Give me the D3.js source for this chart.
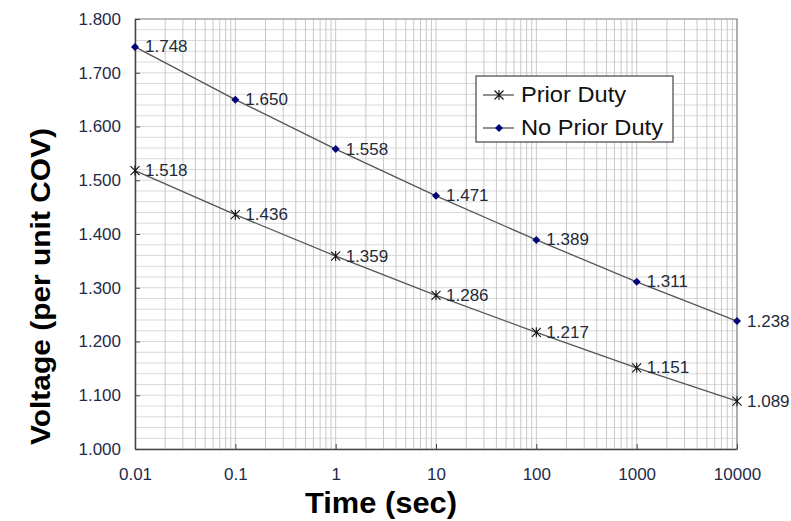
<!DOCTYPE html>
<html><head><meta charset="utf-8">
<script src="https://cdn.jsdelivr.net/npm/d3@7"></script>
<style>body{margin:0;background:#fff;}svg{display:block;}</style>
</head><body>
<svg id="c" width="791" height="521"></svg>
<script>
const times = [0.01, 0.1, 1, 10, 100, 1000, 10000];
const priorDuty = [1.518, 1.436, 1.359, 1.286, 1.217, 1.151, 1.089];
const noPriorDuty = [1.748, 1.650, 1.558, 1.471, 1.389, 1.311, 1.238];
const xTickLabels = ["0.01", "0.1", "1", "10", "100", "1000", "10000"];
const yTicks = [1.0, 1.1, 1.2, 1.3, 1.4, 1.5, 1.6, 1.7, 1.8];
const seriesNames = ["Prior Duty", "No Prior Duty"];

const FONT = "Arial, 'Liberation Sans', sans-serif";
const svg = d3.select("#c");
const L = 135, R = 737, T = 19, B = 449;
const x = d3.scaleLog().domain([0.01, 10000]).range([L, R]);
const y = d3.scaleLinear().domain([1.0, 1.8]).range([B, T]);

// minor horizontal grid
const hMinor = d3.range(0, 41).map(i => 1.0 + i * 0.02);
svg.append("g").selectAll("line").data(hMinor).join("line")
  .attr("x1", L).attr("x2", R).attr("y1", d => y(d)).attr("y2", d => y(d))
  .attr("stroke", "#d9d9d9").attr("stroke-width", 1);
// vertical grid
const vLines = [];
for (let e = -2; e < 4; e++) for (let m = 1; m < 10; m++) vLines.push(m * Math.pow(10, e));
vLines.push(10000);
svg.append("g").selectAll("line").data(vLines).join("line")
  .attr("x1", d => x(d)).attr("x2", d => x(d)).attr("y1", T).attr("y2", B)
  .attr("stroke", "#c8c8c8").attr("stroke-width", 1);

// border top/right
svg.append("path").attr("d", `M${L},${T}H${R}V${B}`).attr("fill", "none").attr("stroke", "#888").attr("stroke-width", 1.2);

// axes
const yAxis = d3.axisLeft(y).tickValues(yTicks).tickFormat(d3.format(".3f")).tickSizeInner(-5).tickSizeOuter(0).tickPadding(14);
const gy = svg.append("g").attr("transform", `translate(${L},0)`).call(yAxis);
gy.select(".domain").attr("stroke", "#444").attr("stroke-width", 1.5);
gy.selectAll(".tick line").attr("stroke", "#444");
gy.selectAll("text").attr("font-family", FONT).attr("font-size", 17).attr("fill", "#1f2a4a");

const xAxis = d3.axisBottom(x).tickValues(times).tickFormat((d, i) => xTickLabels[i]).tickSizeInner(-5).tickSizeOuter(0).tickPadding(19);
const gx = svg.append("g").attr("transform", `translate(0,${B})`).call(xAxis);
gx.select(".domain").attr("stroke", "#444").attr("stroke-width", 1.5);
gx.selectAll(".tick line").attr("stroke", "#444");
gx.selectAll("text").attr("font-family", FONT).attr("font-size", 17).attr("fill", "#1f2a4a");

const line = d3.line().x((d, i) => x(times[i])).y(d => y(d));
svg.append("path").datum(priorDuty).attr("d", line).attr("fill", "none").attr("stroke", "#555").attr("stroke-width", 1.3);
svg.append("path").datum(noPriorDuty).attr("d", line).attr("fill", "none").attr("stroke", "#555").attr("stroke-width", 1.3);

function star(g, cx, cy) {
  const s = 4.5;
  g.append("path").attr("d", `M${cx - s},${cy - s}L${cx + s},${cy + s}M${cx - s},${cy + s}L${cx + s},${cy - s}M${cx},${cy - s - 0.5}L${cx},${cy + s + 0.5}`)
    .attr("stroke", "#111").attr("stroke-width", 1.1).attr("fill", "none");
}
function diamond(g, cx, cy) {
  const s = 4;
  g.append("path").attr("d", `M${cx},${cy - s}L${cx + s},${cy}L${cx},${cy + s}L${cx - s},${cy}Z`).attr("fill", "#00007a");
}

const gm = svg.append("g");
priorDuty.forEach((v, i) => star(gm, x(times[i]), y(v)));
noPriorDuty.forEach((v, i) => diamond(gm, x(times[i]), y(v)));

const lab = svg.append("g").attr("font-family", FONT).attr("font-size", 17).attr("fill", "#1f2a3a");
priorDuty.forEach((v, i) => lab.append("text").attr("x", x(times[i]) + 10).attr("y", y(v) + 5.5).text(d3.format(".3f")(v)));
noPriorDuty.forEach((v, i) => lab.append("text").attr("x", x(times[i]) + 10).attr("y", y(v) + 5.5).text(d3.format(".3f")(v)));

// legend
const lg = svg.append("g");
lg.append("rect").attr("x", 476).attr("y", 76).attr("width", 197).attr("height", 66).attr("fill", "#fff").attr("stroke", "#444").attr("stroke-width", 1.2);
lg.append("line").attr("x1", 483).attr("x2", 514).attr("y1", 95).attr("y2", 95).attr("stroke", "#555").attr("stroke-width", 1.3);
star(lg, 499, 95);
lg.append("line").attr("x1", 483).attr("x2", 514).attr("y1", 128).attr("y2", 128).attr("stroke", "#555").attr("stroke-width", 1.3);
diamond(lg, 499, 128);
lg.append("text").attr("x", 521).attr("y", 102).attr("font-family", FONT).attr("font-size", 22).attr("fill", "#111")
  .attr("textLength", 105).attr("lengthAdjust", "spacingAndGlyphs").text(seriesNames[0]);
lg.append("text").attr("x", 521).attr("y", 135).attr("font-family", FONT).attr("font-size", 22).attr("fill", "#111")
  .attr("textLength", 142).attr("lengthAdjust", "spacingAndGlyphs").text(seriesNames[1]);

// titles
svg.append("text").attr("x", 381).attr("y", 513).attr("text-anchor", "middle")
  .attr("font-family", FONT).attr("font-weight", "bold").attr("font-size", 30).attr("fill", "#000")
  .attr("textLength", 152).attr("lengthAdjust", "spacingAndGlyphs").text("Time (sec)");
svg.append("text").attr("transform", "translate(50,286.5) rotate(-90)").attr("text-anchor", "middle")
  .attr("font-family", FONT).attr("font-weight", "bold").attr("font-size", 28).attr("fill", "#000")
  .attr("textLength", 317).attr("lengthAdjust", "spacingAndGlyphs").text("Voltage (per unit COV)");
</script>
</body></html>
